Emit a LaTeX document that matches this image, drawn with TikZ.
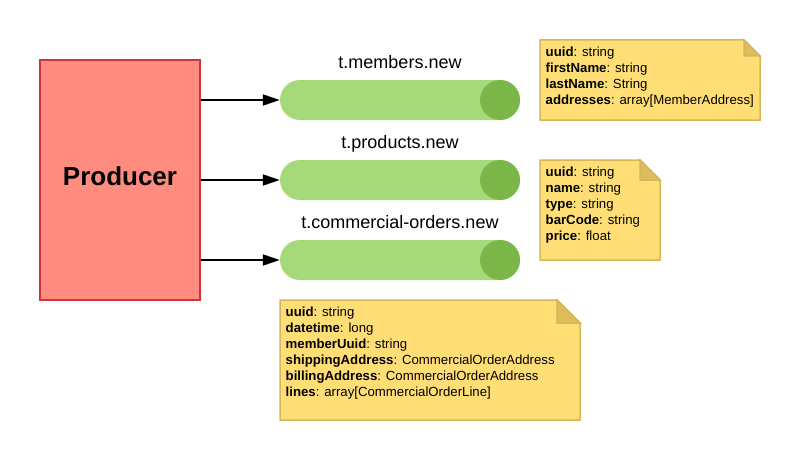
\documentclass[tikz,border=0pt]{standalone}
\usepackage{fontspec}
\setmainfont{Liberation Sans}
\usetikzlibrary{arrows.meta}
\definecolor{prodfill}{HTML}{FF8C7E}
\definecolor{prodline}{HTML}{D0343F}
\definecolor{topicfill}{HTML}{A5D979}
\definecolor{topicend}{HTML}{7AB648}
\definecolor{notefill}{HTML}{FFDE75}
\definecolor{noteline}{HTML}{D6B656}
\definecolor{notefold}{HTML}{DCBF5C}
\begin{document}
\begin{tikzpicture}[x=1pt,y=-1pt,
  producer/.style={draw=prodline, fill=prodfill, line width=2pt, minimum width=160pt, minimum height=240pt, inner sep=0pt},
  topic/.style={fill=topicfill, rounded corners=20pt, minimum width=240pt, minimum height=40pt, inner sep=0pt},
  topicend/.style={fill=topicend},
  title/.style={font=\fontsize{18}{20}\selectfont, anchor=base, inner sep=0pt},
  notebox/.style={fill=notefill, draw=noteline, line width=1.5pt, line join=miter},
  notefoldst/.style={fill=notefold, draw=noteline, line width=1.5pt},
  notetext/.style={font=\fontsize{13.2}{16}\selectfont, align=left, anchor=north west, inner sep=0pt},
  conn/.style={line width=2pt, -{Triangle[length=17pt,width=11pt]}}
]
\useasboundingbox (0,0) rectangle (800,460);

% producer
\node[producer] (prod) at (120,180) {};
\node[font=\fontsize{26}{28}\selectfont\bfseries, anchor=base, inner sep=0pt] (prodlabel) at (120,185) {Producer};

% topics
\node[topic] (t1) at (400,100) {};
\node[topic] (t2) at (400,180) {};
\node[topic] (t3) at (400,260) {};
\fill[topicend] (500,100) circle (20);
\fill[topicend] (500,180) circle (20);
\fill[topicend] (500,260) circle (20);
\node[title] (l1) at (400,68) {t.members.new};
\node[title] (l2) at (400,148) {t.products.new};
\node[title] (l3) at (400,228) {t.commercial-orders.new};

% connectors
\draw[conn] (prod.east |- t1.west) -- (t1.west);
\draw[conn] (prod.east |- t2.west) -- (t2.west);
\draw[conn] (prod.east |- t3.west) -- (t3.west);

% note 1
\draw[notebox] (540,40) -- (744,40) -- (760,56) -- (760,120) -- (540,120) -- cycle;
\draw[notefoldst] (744,40) -- (760,56) -- (744,56) -- cycle;
\node[notetext] (n1) at (545.5,46.6) {\textbf{uuid}: string\\\textbf{firstName}: string\\\textbf{lastName}: String\\\textbf{addresses}: array[MemberAddress]};

% note 2
\draw[notebox] (540,160) -- (640,160) -- (660,180) -- (660,260) -- (540,260) -- cycle;
\draw[notefoldst] (640,160) -- (660,180) -- (640,180) -- cycle;
\node[notetext] (n2) at (545.5,166.6) {\textbf{uuid}: string\\\textbf{name}: string\\\textbf{type}: string\\\textbf{barCode}: string\\\textbf{price}: float};

% note 3
\draw[notebox] (280,300) -- (557,300) -- (580,323) -- (580,420) -- (280,420) -- cycle;
\draw[notefoldst] (557,300) -- (580,323) -- (557,323) -- cycle;
\node[notetext] (n3) at (285.5,306.6) {\textbf{uuid}: string\\\textbf{datetime}: long\\\textbf{memberUuid}: string\\\textbf{shippingAddress}: CommercialOrderAddress\\\textbf{billingAddress}: CommercialOrderAddress\\\textbf{lines}: array[CommercialOrderLine]};
\end{tikzpicture}
\end{document}
